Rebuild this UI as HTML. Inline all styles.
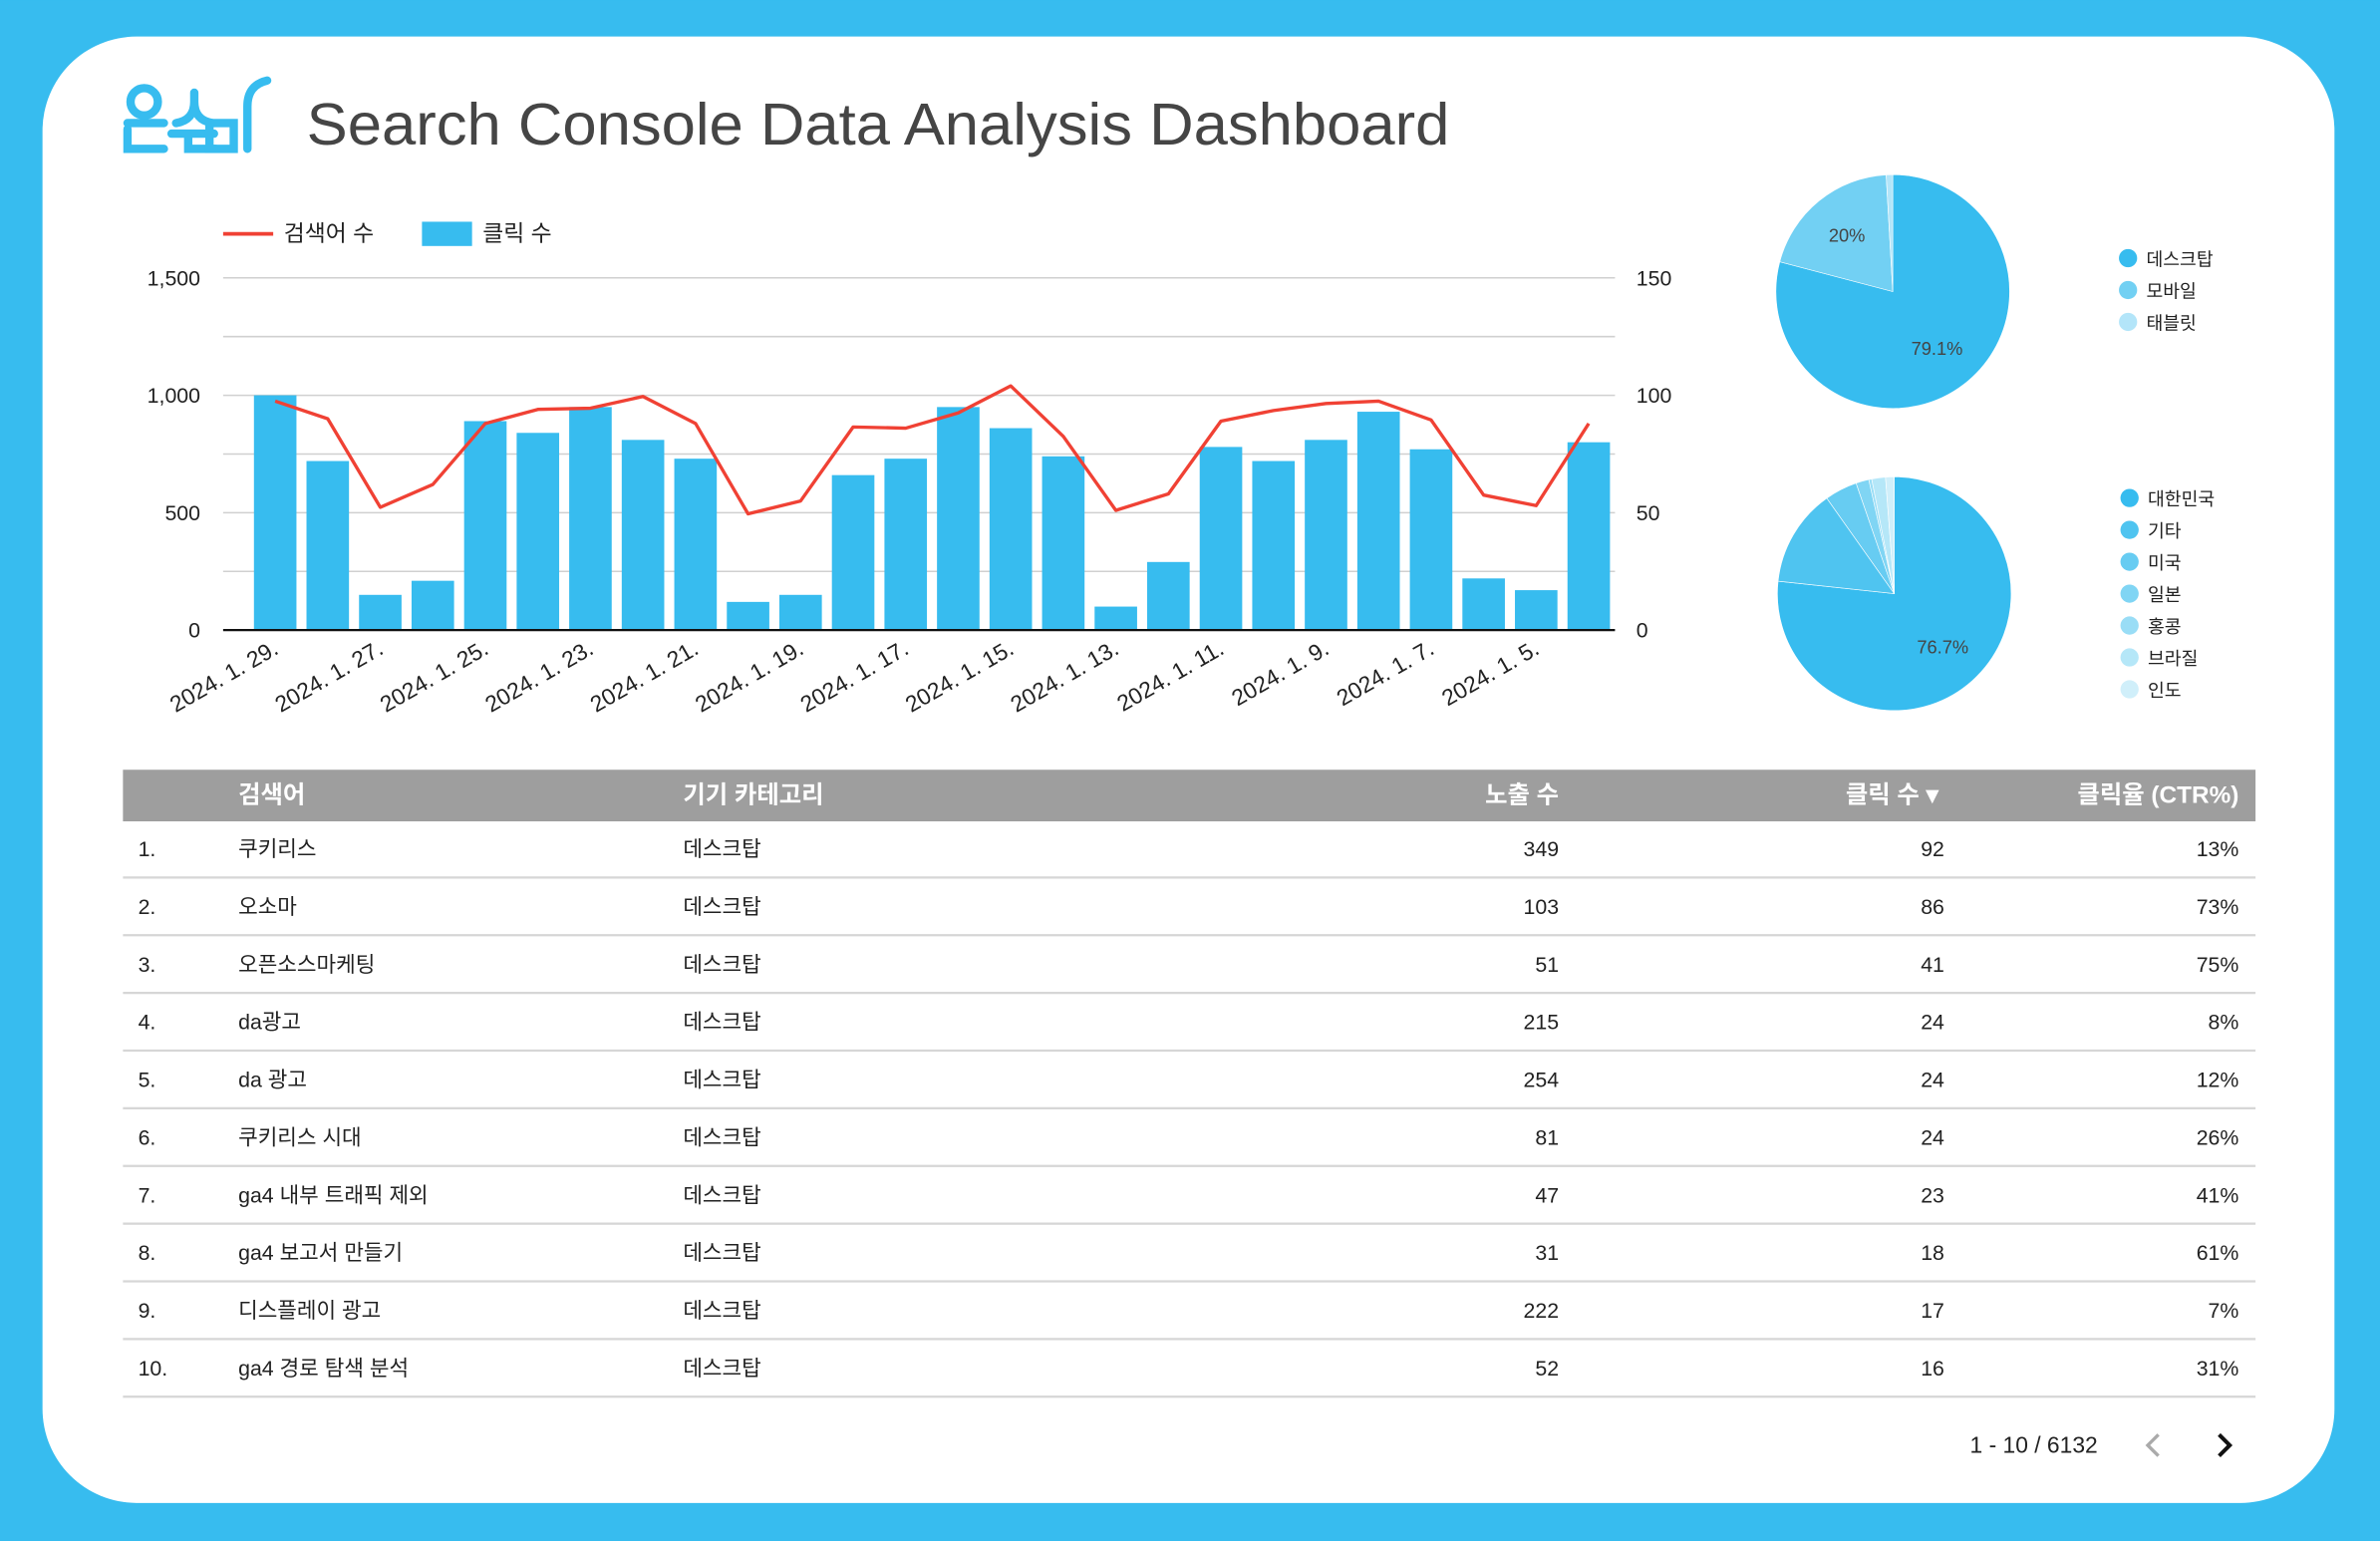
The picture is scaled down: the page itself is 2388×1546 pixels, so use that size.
<!DOCTYPE html>
<html><head><meta charset="utf-8"><style>
html,body{margin:0;padding:0;background:#37bcef;width:2388px;height:1546px;overflow:hidden}
svg{display:block}
text{font-family:"Liberation Sans","Noto Sans CJK KR",sans-serif}
</style></head><body>
<svg id="s" width="2388" height="1546" viewBox="0 0 1568 1015" xmlns="http://www.w3.org/2000/svg">
<rect x="0" y="0" width="1568" height="1015" fill="#37bcef"/>
<rect x="28" y="24" width="1510" height="966" rx="62" fill="#fff"/>
<g fill="none" stroke="#37bcef" stroke-width="5.5" stroke-linecap="round">
<circle cx="95" cy="67" r="9"/><path d="M84 81h24M84 85v13h24"/>
<path d="M128 61v6q0 12-12 14M128 67q0 12 12 14M113 88h28M124 88v10h18"/>
<rect x="138" y="81" width="16" height="17"/>
<path d="M163 98V70q0-14 13-17"/>
</g>
<text x="202" y="95" font-size="39" fill="#454545" textLength="753" lengthAdjust="spacingAndGlyphs">Search Console Data Analysis Dashboard</text>
<g id="chart"></g>
<g id="pies"></g>
<g id="table"></g>
<g>
<text x="1382" y="957" font-size="15" fill="#222" text-anchor="end">1 - 10 / 6132</text>
<path d="M1422 945l-7 7 7 7" fill="none" stroke="#aaa" stroke-width="2.2"/>
<path d="M1462 945l7 7-7 7" fill="none" stroke="#111" stroke-width="2.6"/>
</g>
</svg>
<script>
const dates=["2024. 1. 29.","2024. 1. 28.","2024. 1. 27.","2024. 1. 26.","2024. 1. 25.","2024. 1. 24.","2024. 1. 23.","2024. 1. 22.","2024. 1. 21.","2024. 1. 20.","2024. 1. 19.","2024. 1. 18.","2024. 1. 17.","2024. 1. 16.","2024. 1. 15.","2024. 1. 14.","2024. 1. 13.","2024. 1. 12.","2024. 1. 11.","2024. 1. 10.","2024. 1. 9.","2024. 1. 8.","2024. 1. 7.","2024. 1. 6.","2024. 1. 5.","2024. 1. 4."];
const clicks=[100,72,15,21,89,84,95,81,73,12,15,66,73,95,86,74,10,29,78,72,81,93,77,22,17,80];
const queries=[975,900,523,620,880,940,945,995,880,495,550,865,860,925,1040,825,510,580,890,935,965,975,895,575,530,880];
const leftTicks=[0,500,1000,1500];
const rightTicks=[0,50,100,150];
const deviceLabels=["데스크탑","모바일","태블릿"];
const deviceValues=[79.1,20,0.9];
const countryLabels=["대한민국","기타","미국","일본","홍콩","브라질","인도"];
const countryValues=[76.7,13.5,4.5,1.8,0.4,1.9,1.2];
const tKeywords=["쿠키리스","오소마","오픈소스마케팅","da광고","da 광고","쿠키리스 시대","ga4 내부 트래픽 제외","ga4 보고서 만들기","디스플레이 광고","ga4 경로 탐색 분석"];
const tImpr=[349,103,51,215,254,81,47,31,222,52];
const tClicks=[92,86,41,24,24,24,23,18,17,16];
const tCtr=["13%","73%","75%","8%","12%","26%","41%","61%","7%","31%"];

const NS="http://www.w3.org/2000/svg";
function mk(p,tag,a,txt){const e=document.createElementNS(NS,tag);for(const k in a)e.setAttribute(k,a[k]);if(txt!==undefined)e.textContent=txt;p.appendChild(e);return e;}
const C=document.getElementById('chart');
const y0=415,yTop=183,x0=164,x1=1064;
const yL=v=>y0-v/1500*(y0-yTop);
const yR=v=>y0-v/150*(y0-yTop);
const bw=(x1-x0)/dates.length;
const xc=i=>x0+bw*(i+0.5);
for(let v=250;v<=1500;v+=250){const g=mk(C,'line',{x1:147,x2:1064,y1:yL(v),y2:yL(v),stroke:'#d0d0d0','stroke-width':1});

}
leftTicks.forEach(v=>{const t=mk(C,'text',{x:132,y:yL(v)+5,'font-size':14,fill:'#222','text-anchor':'end'},v.toLocaleString('en-US'));

});
rightTicks.forEach(v=>{const t=mk(C,'text',{x:1078,y:yR(v)+5,'font-size':14,fill:'#222'},String(v));

});
clicks.forEach((v,i)=>{const r=mk(C,'rect',{x:xc(i)-14,y:yR(v),width:28,height:y0-yR(v),fill:'#37bcef'});

});
const pl=mk(C,'polyline',{points:queries.map((v,i)=>xc(i)+','+yL(v)).join(' '),fill:'none',stroke:'#f04134','stroke-width':2.2,'stroke-linejoin':'round'});


const ax=mk(C,'line',{x1:147,x2:1064,y1:y0,y2:y0,stroke:'#111','stroke-width':1.5});


dates.forEach((d,i)=>{if(i%2)return;const t=mk(C,'text',{x:0,y:0,'font-size':15,fill:'#222','text-anchor':'end',transform:`translate(${xc(i)+3},${430}) rotate(-30)`},d);

});
const lg=mk(C,'g',{});


mk(lg,'line',{x1:147,x2:180,y1:154,y2:154,stroke:'#f04134','stroke-width':2.5});
mk(lg,'text',{x:187,y:159,'font-size':15,fill:'#222'},'검색어 수');
mk(lg,'rect',{x:278,y:146,width:33,height:16,fill:'#37bcef'});
mk(lg,'text',{x:318,y:159,'font-size':15,fill:'#222'},'클릭 수');

const P=document.getElementById('pies');
const devCols=['#37bcef','#72d0f3','#b3e5f9'];
const ctyCols=['#37bcef','#4fc4f0','#67ccf2','#80d5f4','#99ddf6','#b5e7f8','#d0effa'];
function pie(cx,cy,r,vals,cols,labels,lx,ly,name){
  const g=mk(P,'g',{});
  
  
  const tot=vals.reduce((a,b)=>a+b,0);let a=0;
  vals.forEach((v,i)=>{const a0=a/tot*2*Math.PI,a1=(a+v)/tot*2*Math.PI;a+=v;
    const p=(t)=>[cx+r*Math.sin(t),cy-r*Math.cos(t)];const [sx,sy]=p(a0),[ex,ey]=p(a1);
    const s=mk(g,'path',{d:`M${cx},${cy}L${sx},${sy}A${r},${r} 0 ${a1-a0>Math.PI?1:0} 1 ${ex},${ey}Z`,fill:cols[i],stroke:'#fff','stroke-width':0.4});
    
    
    if(v>=15){const m=(a0+a1)/2;const t=mk(g,'text',{x:cx+r*0.62*Math.sin(m),y:cy-r*0.62*Math.cos(m)+4,'font-size':12,fill:'#444','text-anchor':'middle'},(Math.round(v*10)/10)+'%');
    
    }
  });
  labels.forEach((l,i)=>{const e=mk(g,'g',{});
    
    
    mk(e,'circle',{cx:lx,cy:ly+i*21,r:6,fill:cols[i]});
    mk(e,'text',{x:lx+12,y:ly+i*21+5,'font-size':12,fill:'#222'},l);});
}
pie(1247,192,77,deviceValues,devCols,deviceLabels,1402,170,'device-pie');
pie(1248,391,77,countryValues,ctyCols,countryLabels,1403,328,'country-pie');

const T=document.getElementById('table');
const hd=mk(T,'rect',{x:81,y:507,width:1405,height:34,fill:'#9e9e9e'});


const hs=[['검색어',157,'start'],['기기 카테고리',450,'start'],['노출 수',1027,'end'],['클릭 수 ▾',1277,'end'],['클릭율 (CTR%)',1475,'end']];
hs.forEach(h=>{const t=mk(T,'text',{x:h[1],y:529,'font-size':16,'font-weight':'bold',fill:'#fff','text-anchor':h[2]},h[0]);

});
tKeywords.forEach((k,i)=>{const y=564+i*38;const r=mk(T,'g',{});
  
  
  mk(r,'text',{x:91,y:y,'font-size':14,fill:'#222'},(i+1)+'.');
  mk(r,'text',{x:157,y:y,'font-size':14,fill:'#222'},k);
  mk(r,'text',{x:450,y:y,'font-size':14,fill:'#222'},'데스크탑');
  mk(r,'text',{x:1027,y:y,'font-size':14,fill:'#222','text-anchor':'end'},String(tImpr[i]));
  mk(r,'text',{x:1281,y:y,'font-size':14,fill:'#222','text-anchor':'end'},String(tClicks[i]));
  mk(r,'text',{x:1475,y:y,'font-size':14,fill:'#222','text-anchor':'end'},tCtr[i]);
  mk(r,'line',{x1:81,x2:1486,y1:578+i*38,y2:578+i*38,stroke:'#d6d6d6','stroke-width':1.5});
});
</script>
</body></html>
